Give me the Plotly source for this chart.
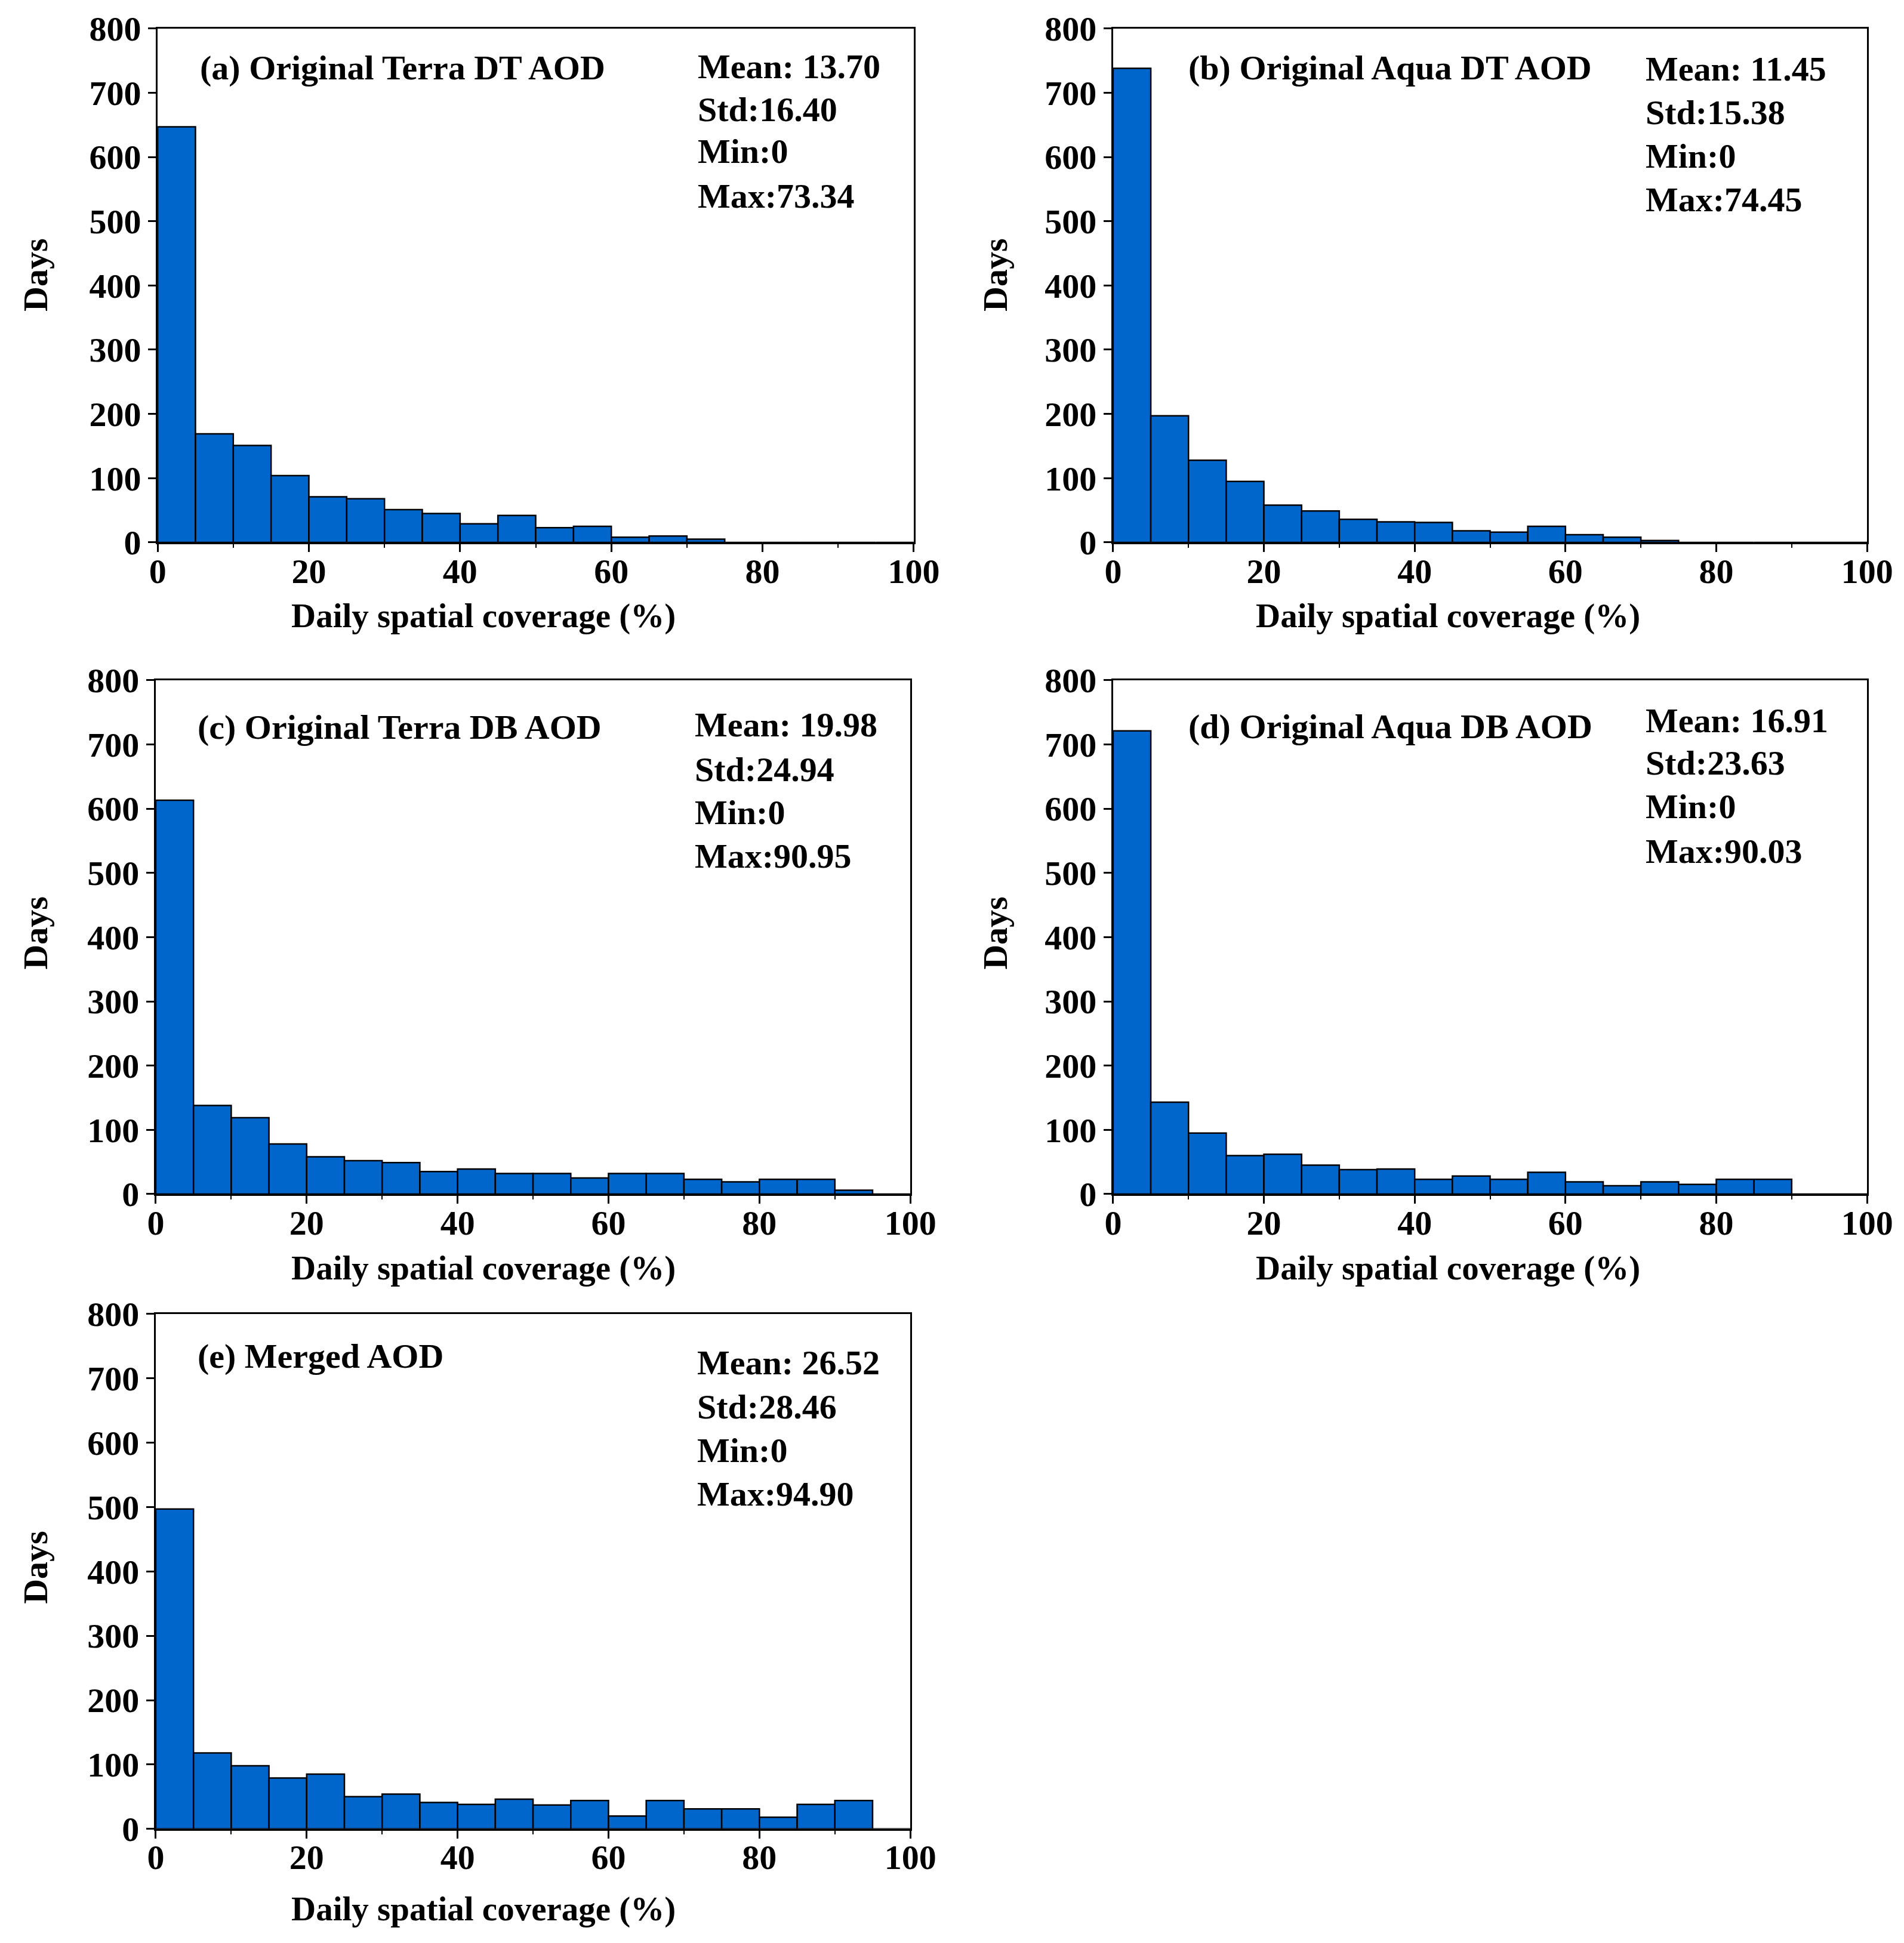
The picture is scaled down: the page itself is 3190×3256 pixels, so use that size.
import plotly.graph_objects as go

# histogram bins: left edges (%), width 5
bin_left = [0, 5, 10, 15, 20, 25, 30, 35, 40, 45, 50, 55, 60, 65, 70, 75, 80, 85, 90, 95]

# days per bin
terra_dt = [647, 169, 151, 104, 71, 68, 51, 45, 29, 42, 23, 25, 8, 10, 5, 0, 0, 0, 0, 0]
aqua_dt = [738, 197, 128, 95, 58, 49, 36, 32, 31, 18, 16, 25, 12, 8, 3, 0, 0, 0, 0, 0]
terra_db = [613, 138, 119, 78, 58, 52, 49, 35, 39, 32, 32, 25, 32, 32, 23, 19, 23, 23, 6, 0]
aqua_db = [721, 143, 95, 60, 62, 45, 38, 39, 23, 28, 23, 34, 19, 13, 19, 15, 23, 23, 0, 0]
merged = [497, 118, 98, 79, 85, 50, 54, 41, 38, 46, 37, 44, 20, 44, 31, 31, 18, 38, 44, 0]

panel_titles = ["(a) Original Terra DT AOD", "(b) Original Aqua DT AOD",
                "(c) Original Terra DB AOD", "(d) Original Aqua DB AOD",
                "(e) Merged AOD"]
stat_mean = ["13.70", "11.45", "19.98", "16.91", "26.52"]
stat_std = ["16.40", "15.38", "24.94", "23.63", "28.46"]
stat_min = ["0", "0", "0", "0", "0"]
stat_max = ["73.34", "74.45", "90.95", "90.03", "94.90"]

x_ticks = [0, 20, 40, 60, 80, 100]
y_ticks = [0, 100, 200, 300, 400, 500, 600, 700, 800]

series = [terra_dt, aqua_dt, terra_db, aqua_db, merged]

# panel placement (paper fractions); page body adds ~8px, so nudge up/left
DX, DY = -0.0025, 0.0025
x_dom = [[0.0828, 0.4799], [0.5846, 0.9806], [0.0818, 0.4781], [0.5846, 0.9806], [0.0818, 0.4781]]
y_dom = [[0.7208, 0.9853], [0.7208, 0.9853], [0.3854, 0.6499], [0.3854, 0.6499], [0.0587, 0.3237]]
title_pos = [(5.4, 739), (9.8, 739), (5.4, 727), (9.8, 728), (5.4, 735)]
stat_pos = [(71.3, [741, 674, 609, 539]), (70.5, [737, 669, 601, 534]),
            (71.3, [731, 661, 594, 526]), (70.5, [737, 671, 603, 534]),
            (71.6, [724, 656, 588, 520])]
xtitle_pos = [(0.2539, 0.6830), (0.7605, 0.6830), (0.2539, 0.3474), (0.7605, 0.3474), (0.2539, 0.0175)]
ytitle_pos = [(0.0188, 0.8584), (0.5229, 0.8584), (0.0188, 0.5197), (0.5229, 0.5197), (0.0188, 0.1932)]

FONT = "Liberation Serif, Times New Roman, serif"
FS = 58

fig = go.Figure()
layout = dict(
    width=3190, height=3256,
    margin=dict(l=0, r=0, t=0, b=0, pad=0),
    paper_bgcolor="white", plot_bgcolor="white",
    showlegend=False,
    font=dict(family=FONT, size=FS, color="black", weight="bold"),
    annotations=[],
)

for i, vals in enumerate(series):
    n = "" if i == 0 else str(i + 1)
    fig.add_trace(go.Bar(
        x=bin_left, y=vals, offset=0, width=5,
        marker=dict(color="rgb(0,102,204)", line=dict(color="black", width=2.5)),
        xaxis="x" + n, yaxis="y" + n,
    ))
    layout["xaxis" + n] = dict(
        domain=[x_dom[i][0] + DX, x_dom[i][1] + DX], anchor="y" + n, range=[0, 100], automargin=False,
        tickvals=x_ticks, ticks="outside", ticklen=13, tickwidth=3, tickcolor="black",
        ticklabelstandoff=-18,
        minor=dict(dtick=10, ticks="outside", ticklen=6, tickwidth=2, tickcolor="black"),
        showline=True, linewidth=3, linecolor="black", mirror=True,
        showgrid=False, zeroline=False,
        tickfont=dict(family=FONT, size=FS, weight="bold"),
    )
    layout["yaxis" + n] = dict(
        domain=[y_dom[i][0] + DY, y_dom[i][1] + DY], anchor="x" + n, range=[0, 800], automargin=False,
        tickvals=y_ticks, ticks="outside", ticklen=13, tickwidth=3, tickcolor="black",
        showline=True, linewidth=3, linecolor="black", mirror=True,
        showgrid=False, zeroline=False,
        tickfont=dict(family=FONT, size=FS, weight="bold"),
    )
    xr, yr = "x" + n, "y" + n
    tx, ty = title_pos[i]
    layout["annotations"].append(dict(
        x=tx, y=ty, xref=xr, yref=yr, text=panel_titles[i], showarrow=False,
        xanchor="left", yanchor="middle", font=dict(family=FONT, size=FS, weight="bold")))
    sx, sys = stat_pos[i]
    lines = ["Mean: " + stat_mean[i], "Std:" + stat_std[i], "Min:" + stat_min[i], "Max:" + stat_max[i]]
    for txt, sy in zip(lines, sys):
        layout["annotations"].append(dict(
            x=sx, y=sy, xref=xr, yref=yr, text=txt, showarrow=False,
            xanchor="left", yanchor="middle", font=dict(family=FONT, size=FS, weight="bold")))
    px, py = xtitle_pos[i]
    layout["annotations"].append(dict(
        x=px + DX, y=py + DY, xref="paper", yref="paper", text="Daily spatial coverage (%)", showarrow=False,
        xanchor="center", yanchor="middle", font=dict(family=FONT, size=57, weight="bold")))
    qx, qy = ytitle_pos[i]
    layout["annotations"].append(dict(
        x=qx + DX, y=qy + DY, xref="paper", yref="paper", text="Days", showarrow=False, textangle=-90,
        xanchor="center", yanchor="middle", font=dict(family=FONT, size=FS, weight="bold")))

fig.update_layout(**layout)
fig.write_html("out.html", config={"displayModeBar": False})
